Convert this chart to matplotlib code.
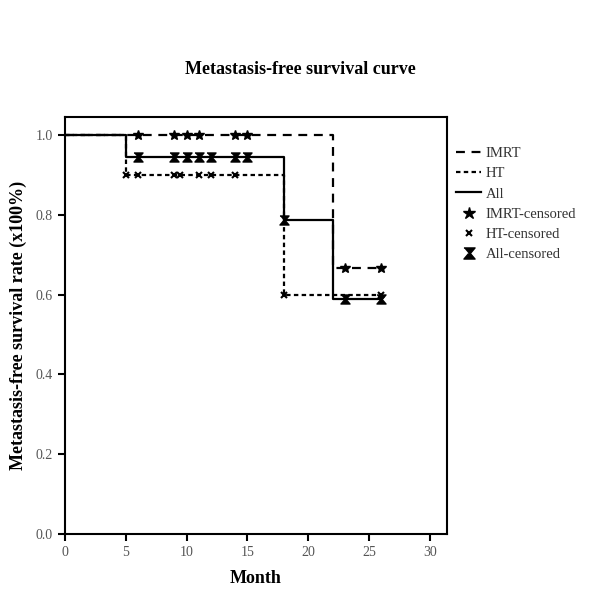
import matplotlib
matplotlib.use('Agg')
import matplotlib.pyplot as plt
import numpy as np
from matplotlib.lines import Line2D

plt.rcParams['font.family'] = ['Liberation Serif', 'DejaVu Serif']

# step curves (time in months, survival rate)
imrt_t = [0, 22, 26]
imrt_s = [1.0, 0.667, 0.667]
ht_t = [0, 5, 18, 26]
ht_s = [1.0, 0.9, 0.6, 0.6]
all_t = [0, 5, 18, 22, 26]
all_s = [1.0, 0.944, 0.787, 0.59, 0.59]

# censored times
imrt_c = [6, 9, 10, 11, 14, 15, 23, 26]
ht_c = [5, 6, 9, 9.5, 11, 12, 14, 18, 26]
all_c = [6, 9, 10, 11, 12, 14, 15, 18, 23, 26]

xticks = [0, 5, 10, 15, 20, 25, 30]
yticks = [0.0, 0.2, 0.4, 0.6, 0.8, 1.0]


def at(t, s, c):
    t = np.asarray(t); s = np.asarray(s)
    idx = np.searchsorted(t, c, side='right') - 1
    return s[idx]


hourglass = [(-1, 1), (1, 1), (0.15, 0), (1, -1), (-1, -1), (-0.15, 0)]

fig = plt.figure(figsize=(6, 6), dpi=100)
ax = fig.add_axes([0.108, 0.11, 0.637, 0.695])

lw = 1.6
ax.step(imrt_t, imrt_s, where='post', color='black', lw=lw, linestyle=(0, (4, 3)))
ax.step(ht_t, ht_s, where='post', color='black', lw=lw, linestyle=(0, (2, 1.5)))
ax.step(all_t, all_s, where='post', color='black', lw=lw, linestyle='-')

ax.plot(imrt_c, at(imrt_t, imrt_s, imrt_c), linestyle='none', marker='*',
        color='black', markersize=7.5)
ax.plot(ht_c, at(ht_t, ht_s, ht_c), linestyle='none', marker='x',
        color='black', markersize=4.5, markeredgewidth=1.5)
ax.plot(all_c, at(all_t, all_s, all_c), linestyle='none', marker=hourglass,
        color='black', markersize=6.5)

ax.set_xlim(0, 31.4)
ax.set_ylim(0, 1.045)
ax.set_xticks(xticks)
ax.set_yticks(yticks)
ax.set_yticklabels(['%.1f' % v for v in yticks])
ax.tick_params(direction='out', length=5, width=1.5, labelsize=10,
               labelcolor='#555555', color='black')
for sp in ax.spines.values():
    sp.set_linewidth(1.5)

ax.set_xlabel('Month', fontsize=13, fontweight='bold', labelpad=8)
ax.set_ylabel('Metastasis-free survival rate (x100%)', fontsize=13,
              fontweight='bold', labelpad=6)
fig.text(0.5, 0.885, 'Metastasis-free survival curve', ha='center',
         va='center', fontsize=13, fontweight='bold')

handles = [
    Line2D([], [], color='black', lw=lw, linestyle=(0, (4, 3))),
    Line2D([], [], color='black', lw=lw, linestyle=(0, (2, 1.5))),
    Line2D([], [], color='black', lw=lw, linestyle='-'),
    Line2D([], [], color='black', linestyle='none', marker='*', markersize=9),
    Line2D([], [], color='black', linestyle='none', marker='x', markersize=4.5,
           markeredgewidth=1.5),
    Line2D([], [], color='black', linestyle='none', marker=hourglass, markersize=8),
]
labels = ['IMRT', 'HT', 'All', 'IMRT-censored', 'HT-censored', 'All-censored']
fig.legend(handles, labels, loc='upper left', bbox_to_anchor=(0.738, 0.777),
           frameon=False, fontsize=10.5, handlelength=1.75, labelspacing=0.48,
           handletextpad=0.3, labelcolor='#333333')

fig.savefig('out.png', dpi=100, facecolor='white')
